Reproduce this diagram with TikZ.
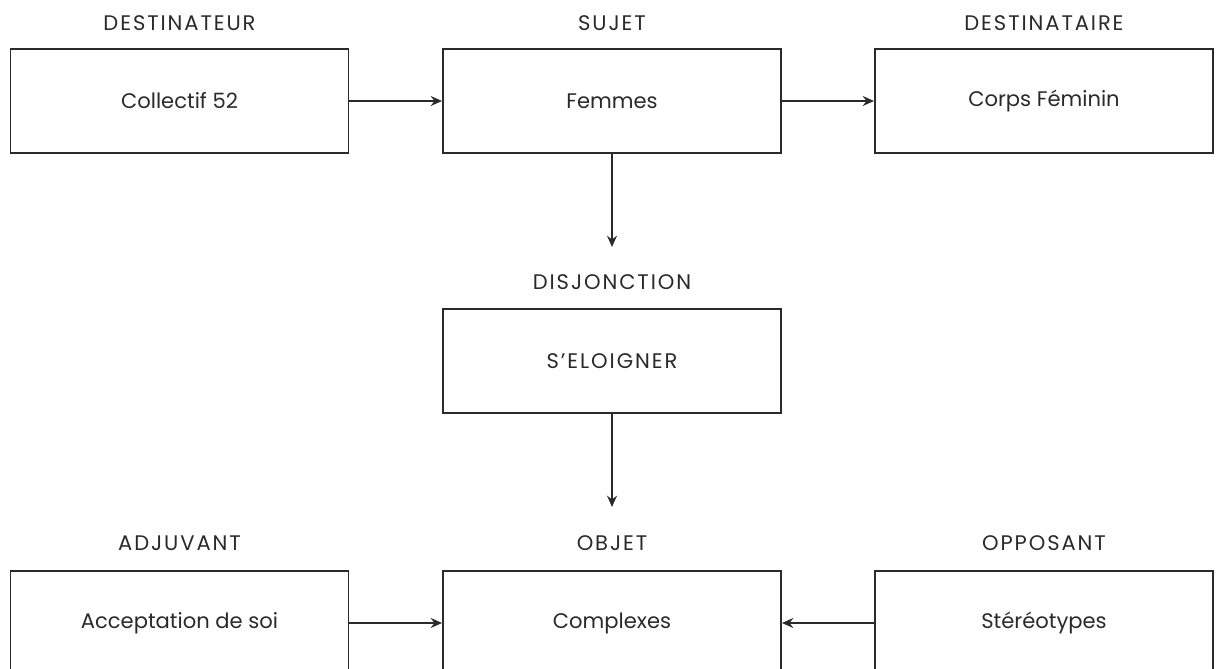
\documentclass[tikz,border=0pt]{standalone}
\usepackage{fontspec}
\setmainfont{Poppins}
\newfontfamily\capsfont[LetterSpace=9]{Poppins}
\usetikzlibrary{arrows.meta}

\definecolor{ink}{HTML}{2A2A2A}

\tikzset{
  box/.style={draw=ink, line width=1.3pt, minimum width=8.45cm, minimum height=2.6cm,
    inner sep=0pt, text=ink, font=\fontsize{15}{17}\selectfont},
  capsbox/.style={box, font=\capsfont\fontsize{15}{17}\selectfont},
  role/.style={inner sep=0pt, text=ink, font=\capsfont\fontsize{15}{17}\selectfont},
  link/.style={draw=ink, line width=1.3pt, -{Stealth[length=8pt,width=7pt]}}
}

\begin{document}
\begin{tikzpicture}[x=0.025cm, y=-0.025cm]

  % --- frame of the picture ---
  \useasboundingbox (0,0) rectangle (1217,669);
  \clip (0,0) rectangle (1217,669);

  % --- top row ---
  \node[role] (destinateurlbl)  at (179.5,23) {DESTINATEUR};
  \node[role] (sujetlbl)        at (612,23)   {SUJET};
  \node[role] (destinatairelbl) at (1044,23)  {DESTINATAIRE};

  \node[box] (destinateur)  at (179.5,101) {Collectif 52};
  \node[box] (sujet)        at (612,101)   {Femmes};
  \node[box] (destinataire) at (1044,101)  {Corps Féminin};

  % --- middle ---
  \node[role]    (disjonctionlbl) at (612,282) {DISJONCTION};
  \node[capsbox] (disjonction)    at (612,361) {S’ELOIGNER};

  % --- bottom row ---
  \node[role] (adjuvantlbl) at (179.5,543) {ADJUVANT};
  \node[role] (objetlbl)    at (612,543)   {OBJET};
  \node[role] (opposantlbl) at (1044,543)  {OPPOSANT};

  \node[box] (adjuvant) at (179.5,623) {Acceptation de soi};
  \node[box] (objet)    at (612,623)   {Complexes};
  \node[box] (opposant) at (1044,623)  {Stéréotypes};

  % --- arrows ---
  \coordinate (tipA) at (612,247);
  \coordinate (tipB) at (612,507);

  \draw[link] (destinateur) -- (sujet);
  \draw[link] (sujet) -- (destinataire);
  \draw[link] (sujet) -- (tipA);
  \draw[link] (disjonction) -- (tipB);
  \draw[link] (adjuvant) -- (objet);
  \draw[link] (opposant) -- (objet);

\end{tikzpicture}
\end{document}
